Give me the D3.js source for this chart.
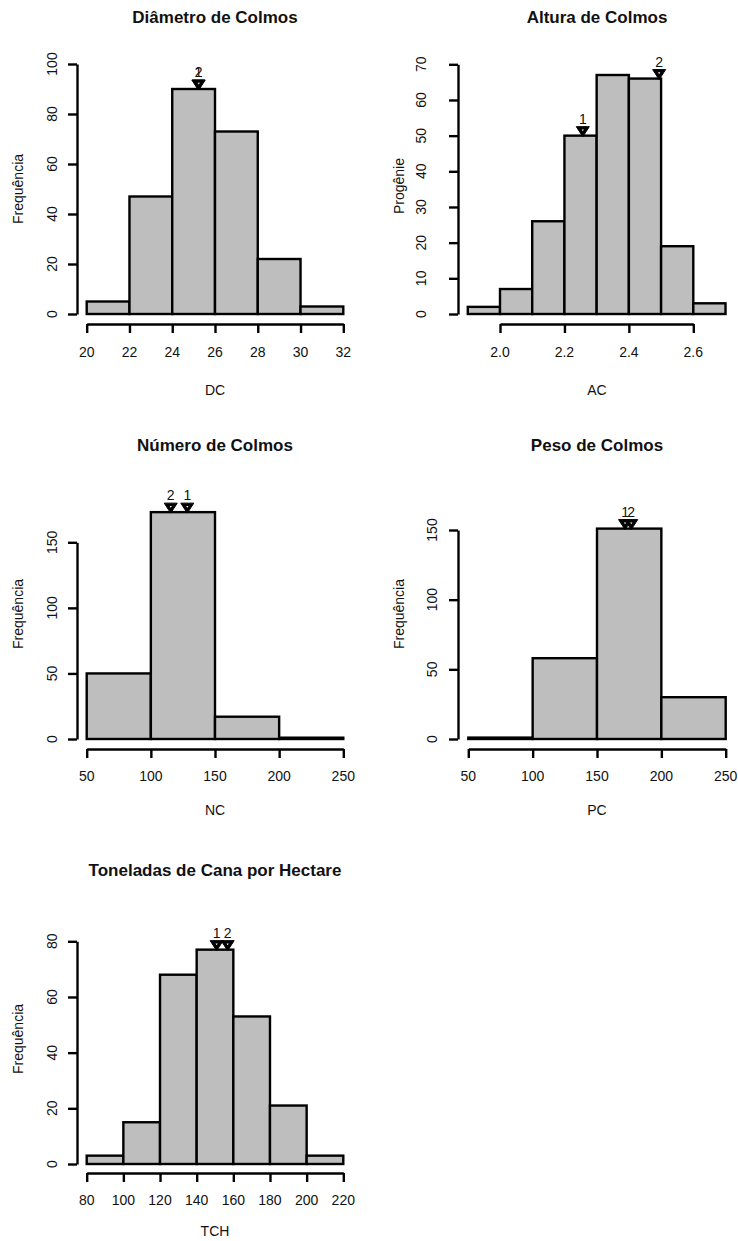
<!DOCTYPE html>
<html>
<head>
<meta charset="utf-8">
<script src="https://cdn.jsdelivr.net/npm/d3@7"></script>
<style>
  html, body { margin: 0; padding: 0; background: #fff; }
  svg text { font-family: "Liberation Sans", Arial, Helvetica, sans-serif; fill: #111; }
</style>
</head>
<body>
<svg id="chart" width="738" height="1241"></svg>
<script>
// Histogram data: bin breaks, counts, tick labels and marked progenies
const dcBreaks = [20, 22, 24, 26, 28, 30, 32];
const dcCounts = [5, 47, 90, 73, 22, 3];
const dcXTicks = [20, 22, 24, 26, 28, 30, 32];
const dcYTicks = [0, 20, 40, 60, 80, 100];
const dcMarks = [25.22, 25.24];
const dcMarkLabels = ["1", "2"];

const acBreaks = [1.9, 2.0, 2.1, 2.2, 2.3, 2.4, 2.5, 2.6, 2.7];
const acCounts = [2, 7, 26, 50, 67, 66, 19, 3];
const acXTicks = [2.0, 2.2, 2.4, 2.6];
const acYTicks = [0, 10, 20, 30, 40, 50, 60, 70];
const acMarks = [2.257, 2.494];
const acMarkLabels = ["1", "2"];

const ncBreaks = [50, 100, 150, 200, 250];
const ncCounts = [50, 173, 17, 1];
const ncXTicks = [50, 100, 150, 200, 250];
const ncYTicks = [0, 50, 100, 150];
const ncMarks = [128.4, 115.5];
const ncMarkLabels = ["1", "2"];

const pcBreaks = [50, 100, 150, 200, 250];
const pcCounts = [1, 58, 151, 30];
const pcXTicks = [50, 100, 150, 200, 250];
const pcYTicks = [0, 50, 100, 150];
const pcMarks = [171.8, 176.6];
const pcMarkLabels = ["1", "2"];

const tchBreaks = [80, 100, 120, 140, 160, 180, 200, 220];
const tchCounts = [3, 15, 68, 77, 53, 21, 3];
const tchXTicks = [80, 100, 120, 140, 160, 180, 200, 220];
const tchYTicks = [0, 20, 40, 60, 80];
const tchMarks = [150.9, 156.9];
const tchMarkLabels = ["1", "2"];

const svg = d3.select("#chart");

// Panel layout: pixel extents of each plot's axes and text positions
const panels = [
  { title: "Diâmetro de Colmos", xLab: "DC", yLab: "Frequência",
    breaks: dcBreaks, counts: dcCounts, xTicks: dcXTicks, yTicks: dcYTicks,
    marks: dcMarks, markLabels: dcMarkLabels, fmt: d3.format("d"),
    xr: [86.7, 343.3], yr: [314, 64], axisX: 77, axisY: 324,
    yTickLabX: 52, yLabX: 18, yLabY: 189, titleX: 215, titleY: 23,
    xTickY: 357, xLabY: 395 },
  { title: "Altura de Colmos", xLab: "AC", yLab: "Progênie",
    breaks: acBreaks, counts: acCounts, xTicks: acXTicks, yTicks: acYTicks,
    marks: acMarks, markLabels: acMarkLabels, fmt: d3.format(".1f"),
    xr: [500, 693.3], yr: [314, 64.3], axisX: 458, axisY: 324,
    yTickLabX: 421, yLabX: 399, yLabY: 186, titleX: 597, titleY: 23,
    xTickY: 357, xLabY: 395 },
  { title: "Número de Colmos", xLab: "NC", yLab: "Frequência",
    breaks: ncBreaks, counts: ncCounts, xTicks: ncXTicks, yTicks: ncYTicks,
    marks: ncMarks, markLabels: ncMarkLabels, fmt: d3.format("d"),
    xr: [86.7, 343.3], yr: [739, 542.3], axisX: 77, axisY: 749,
    yTickLabX: 52, yLabX: 18, yLabY: 614, titleX: 215, titleY: 451,
    xTickY: 781, xLabY: 815 },
  { title: "Peso de Colmos", xLab: "PC", yLab: "Frequência",
    breaks: pcBreaks, counts: pcCounts, xTicks: pcXTicks, yTicks: pcYTicks,
    marks: pcMarks, markLabels: pcMarkLabels, fmt: d3.format("d"),
    xr: [468.3, 725.7], yr: [739, 530], axisX: 458, axisY: 749,
    yTickLabX: 432, yLabX: 399, yLabY: 614, titleX: 597, titleY: 451,
    xTickY: 781, xLabY: 815 },
  { title: "Toneladas de Cana por Hectare", xLab: "TCH", yLab: "Frequência",
    breaks: tchBreaks, counts: tchCounts, xTicks: tchXTicks, yTicks: tchYTicks,
    marks: tchMarks, markLabels: tchMarkLabels, fmt: d3.format("d"),
    xr: [86.7, 343.3], yr: [1164, 941.3], axisX: 77, axisY: 1173,
    yTickLabX: 52, yLabX: 18, yLabY: 1039, titleX: 215, titleY: 876,
    xTickY: 1205, xLabY: 1236 }
];

function drawPanel(p) {
  const g = svg.append("g");
  const x = d3.scaleLinear()
    .domain([p.xTicks[0], p.xTicks[p.xTicks.length - 1]])
    .range(p.xr);
  const y = d3.scaleLinear()
    .domain([p.yTicks[0], p.yTicks[p.yTicks.length - 1]])
    .range(p.yr);

  // bars
  const bins = p.counts.map((c, i) => ({ x0: p.breaks[i], x1: p.breaks[i + 1], n: c }));
  g.selectAll("rect.bar").data(bins).join("rect")
    .attr("class", "bar")
    .attr("x", d => x(d.x0))
    .attr("y", d => y(d.n))
    .attr("width", d => x(d.x1) - x(d.x0))
    .attr("height", d => y(0) - y(d.n))
    .attr("fill", "#bebebe")
    .attr("stroke", "#000")
    .attr("stroke-width", 2.4);

  // x axis
  const xAxis = d3.axisBottom(x).tickValues(p.xTicks).tickSize(9).tickSizeOuter(0).tickFormat("");
  const gx = g.append("g").attr("transform", `translate(0,${p.axisY})`).call(xAxis);
  gx.selectAll("path, line").attr("stroke", "#000").attr("stroke-width", 2.4);
  g.selectAll("text.xt").data(p.xTicks).join("text")
    .attr("class", "xt")
    .attr("x", d => x(d)).attr("y", p.xTickY)
    .attr("text-anchor", "middle")
    .attr("font-size", 14)
    .text(d => p.fmt(d));

  // y axis
  const yAxis = d3.axisLeft(y).tickValues(p.yTicks).tickSize(9).tickSizeOuter(0).tickFormat("");
  const gy = g.append("g").attr("transform", `translate(${p.axisX},0)`).call(yAxis);
  gy.selectAll("path, line").attr("stroke", "#000").attr("stroke-width", 2.4);
  g.selectAll("text.yt").data(p.yTicks).join("text")
    .attr("class", "yt")
    .attr("x", p.yTickLabX).attr("y", d => y(d))
    .attr("transform", d => `rotate(-90,${p.yTickLabX},${y(d)})`)
    .attr("text-anchor", "middle")
    .attr("dominant-baseline", "central")
    .attr("font-size", 14)
    .text(d => d);

  // titles
  g.append("text")
    .attr("x", p.titleX).attr("y", p.titleY)
    .attr("text-anchor", "middle")
    .attr("font-size", 17).attr("font-weight", "bold")
    .text(p.title);
  g.append("text")
    .attr("x", p.titleX).attr("y", p.xLabY)
    .attr("text-anchor", "middle")
    .attr("font-size", 14)
    .text(p.xLab);
  g.append("text")
    .attr("x", p.yLabX).attr("y", p.yLabY)
    .attr("transform", `rotate(-90,${p.yLabX},${p.yLabY})`)
    .attr("text-anchor", "middle")
    .attr("dominant-baseline", "central")
    .attr("font-size", 14)
    .text(p.yLab);

  // marked progenies: solid triangle resting on the bar that contains each value
  const marks = p.marks.map((v, i) => {
    const bi = Math.min(d3.bisectRight(p.breaks, v) - 1, p.counts.length - 1);
    return { v, n: p.counts[bi], label: p.markLabels[i] };
  });
  const mg = g.selectAll("g.mark").data(marks).join("g")
    .attr("class", "mark")
    .attr("transform", d => `translate(${x(d.v)},${y(d.n)})`);
  mg.append("path")
    .attr("d", "M-6.5,-9 L6.5,-9 L0,1 Z")
    .attr("fill", "#000")
    .attr("stroke", "#000")
    .attr("stroke-width", 1)
    .attr("stroke-linejoin", "round");
  mg.append("path")
    .attr("d", "M-1.1,-6.2 L1.1,-6.2 L0,-4.4 Z")
    .attr("fill", "#fff");
  mg.append("text")
    .attr("y", -12)
    .attr("text-anchor", "middle")
    .attr("font-size", 14)
    .text(d => d.label);
}

panels.forEach(drawPanel);
</script>
</body>
</html>
